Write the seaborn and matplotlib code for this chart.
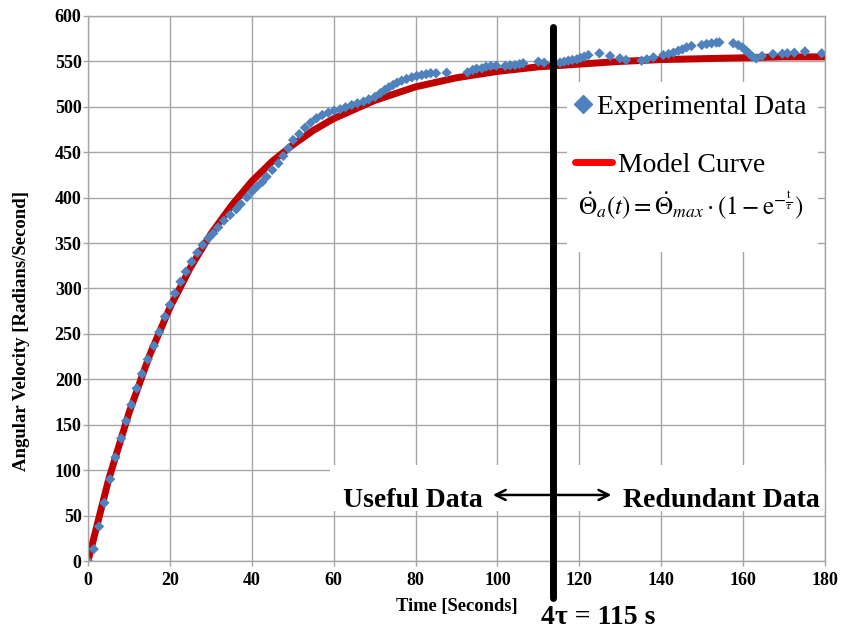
import numpy as np
import pandas as pd
import matplotlib
matplotlib.use("Agg")
import matplotlib.pyplot as plt
from matplotlib.lines import Line2D
from matplotlib.patches import Rectangle
import seaborn as sns

t_exp = [0, 1.4, 2.7, 4.0, 5.4, 6.7, 8.1, 9.3, 10.6, 11.9, 13.2, 14.6, 16.1, 17.4, 18.8,
         20.0, 21.2, 22.6, 23.9, 25.3, 26.7, 28.0, 29.4, 30.6, 31.8, 33.2, 34.7, 36.2, 37.3,
         38.8, 40.0, 41.2, 42.5, 43.6, 45.0, 46.5, 47.7, 48.9, 50.1, 51.6, 53.0, 54.4, 55.8,
         57.2, 58.7, 60.1, 61.6, 62.9, 64.4, 65.8, 67.3, 68.6, 70.1, 71.4, 72.5, 73.5, 74.5,
         75.5, 76.6, 77.8, 79.1, 80.3, 81.5, 82.6, 83.7, 85.0, 87.6, 92.7, 94.0, 94.9, 96.2,
         97.2, 98.4, 99.7, 101.9, 103.1, 104.3, 105.4, 106.3, 110.0, 111.4, 115.3, 116.3,
         117.3, 118.3, 119.4, 120.3, 121.2, 122.2, 124.9, 127.5, 129.9, 131.4, 135.2, 136.5,
         138.1, 140.5, 141.8, 143.0, 144.2, 145.2, 146.2, 147.4, 149.9, 151.1, 152.3, 153.5,
         154.2, 157.6, 158.8, 159.8, 160.7, 161.5, 162.3, 163.2, 164.6, 167.3, 169.6, 170.8,
         172.5, 175.1, 179.2]
v_exp = [0, 13, 38, 64, 90, 114, 135, 154, 172, 190, 206, 222, 237, 252, 269,
         282, 294.7, 307.5, 318.5, 329.5, 339.4, 348, 355.3, 360.8, 367.4, 374.7, 381, 387.2, 393,
         400.4, 406.6, 412, 417, 423, 430.5, 437.8, 445.9, 454.3, 463.5, 470, 477, 482.6, 487.4,
         491, 493.6, 495.8, 497.3, 499.5, 502, 503.9, 505.7, 508.3, 511, 515, 518.6, 521.5, 524,
         526.6, 528.8, 530.7, 532.5, 534, 535, 536, 537, 537, 537.6, 538, 540.6, 542, 542.4,
         544.2, 545, 545.3, 545, 545.7, 546, 547, 548, 549.7, 548.6, 548.7, 549.7,
         550.8, 551.6, 552.3, 553.8, 555.2, 557, 558.9, 556, 553.4, 551.6, 550.8, 552.3,
         554.5, 557, 558.2, 559.6, 561.8, 563.3, 565.5, 567, 568, 569.2, 570, 570.7,
         571, 570, 568, 565.5, 562, 558.5, 555.2, 553.4, 556, 558.2, 558.5, 559,
         559.6, 561, 558.9]

# model curve
t_model = [0, 5, 10, 15, 20, 25, 30, 35, 40, 45, 50, 55, 60, 70, 80, 90, 100,
           110, 120, 130, 140, 150, 160, 170, 180]
v_model = [0, 89, 163, 226, 279, 323, 360, 391, 418, 440, 458, 474, 487, 507, 522, 532, 539,
           544, 547, 550, 552, 553, 554, 555, 555]

tau4 = 113.5
x_ticks = [0, 20, 40, 60, 80, 100, 120, 140, 160, 180]
y_ticks = [0, 50, 100, 150, 200, 250, 300, 350, 400, 450, 500, 550, 600]

exp_df = pd.DataFrame({"t": t_exp, "v": v_exp})
model_df = pd.DataFrame({"t": t_model, "v": v_model})

sns.set_theme(style="white")
plt.rcParams["font.family"] = ["Liberation Serif", "DejaVu Serif"]
plt.rcParams["mathtext.fontset"] = "stix"
plt.rcParams["text.color"] = "black"
plt.rcParams["axes.labelcolor"] = "black"

fig = plt.figure(figsize=(8.51, 6.29), dpi=100)
ax = fig.add_axes([88 / 851, 68 / 629, 737 / 851, 545 / 629])

grid_c = "#a6a6a6"
ax.set_axisbelow(True)
ax.grid(True, color=grid_c, lw=1)

sns.lineplot(data=model_df, x="t", y="v", ax=ax, color="#C00000", lw=5, zorder=3)
sns.scatterplot(data=exp_df, x="t", y="v", ax=ax, marker="D", s=28, color="#4F81BD",
                edgecolor="none", zorder=4)

ax.set_xlim(0, 180)
ax.set_ylim(0, 600)
ax.set_xticks(x_ticks)
ax.set_yticks(y_ticks)
ax.tick_params(axis="both", labelsize=13, colors=grid_c, labelcolor="black",
               length=3.6, width=1, direction="out", bottom=True, left=True)
ax.tick_params(axis="y", pad=1)
ax.tick_params(axis="x", pad=4)
for lab in ax.get_xticklabels() + ax.get_yticklabels():
    lab.set_fontweight("bold")
for sp in ax.spines.values():
    sp.set_color(grid_c)
    sp.set_linewidth(1)
    sp.set_zorder(6)

ax.set_xlabel("Time [Seconds]", fontsize=13.3, fontweight="bold")
ax.set_ylabel("Angular Velocity [Radians/Second]", fontsize=13.5, fontweight="bold")
ax.xaxis.set_label_coords(0.501, -0.068)
ax.yaxis.set_label_coords(-0.079, 0.422)

# white patches behind legend and annotation
ax.add_patch(Rectangle((117, 340), 61.3, 187, facecolor="white", edgecolor="none", zorder=1))
ax.add_patch(Rectangle((59, 55), 121, 50.4, facecolor="white", edgecolor="none", zorder=1))

leg1 = ax.legend([Line2D([], [], marker="D", ls="none", color="#4F81BD", ms=9)],
                 ["Experimental Data"], loc="center left",
                 bbox_to_anchor=(118.9, 500), bbox_transform=ax.transData, frameon=False,
                 fontsize=20, borderpad=0, borderaxespad=0, handlelength=0.58,
                 handletextpad=0.22)
ax.add_artist(leg1)
ax.legend([Line2D([], [], color="#FF0000", lw=5)], ["Model Curve"], loc="center left",
          bbox_to_anchor=(118.9, 436), bbox_transform=ax.transData, frameon=False,
          fontsize=20, borderpad=0, borderaxespad=0, handlelength=1.33,
          handletextpad=0.22)

ax.text(119.7, 392, r"$\dot{\Theta}_a(t) = \dot{\Theta}_{max} \cdot \left(1 - \mathrm{e}^{-\frac{\mathrm{t}}{\tau}}\right)$",
        fontsize=18, va="center", ha="left", zorder=5)

# 4 tau marker line
ax.axvline(tau4, ymin=-0.068, ymax=0.98, color="black", lw=5, clip_on=False, zorder=7)

ax.text(96.5, 59.5, "Useful Data", fontsize=20, fontweight="bold", ha="right",
        va="baseline", zorder=5)
ax.text(130.7, 59.5, "Redundant Data", fontsize=20, fontweight="bold", ha="left",
        va="baseline", zorder=5)
ax.annotate("", xy=(98.2, 72.7), xytext=(128.5, 72.7),
            arrowprops=dict(arrowstyle="<->", lw=1.8, color="black", mutation_scale=18),
            zorder=5)
ax.text(124.6, -69.5, "4\u03c4 = 115 s", fontsize=20, fontweight="bold", ha="center",
        va="baseline", clip_on=False)

fig.savefig("out.png", dpi=100)
